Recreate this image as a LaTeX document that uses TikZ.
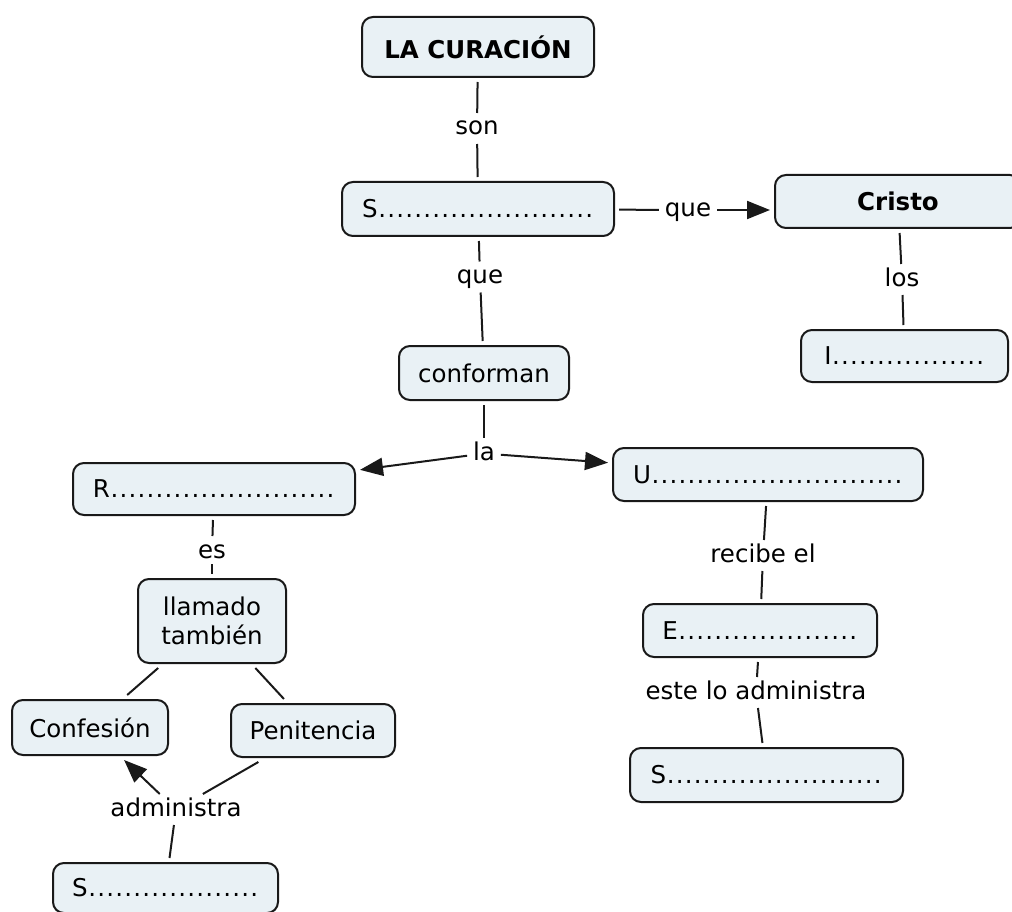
\documentclass[tikz,border=0pt]{standalone}
\usepackage{fontspec}
\setmainfont{DejaVu Sans}
\usetikzlibrary{arrows.meta}
\definecolor{boxfill}{RGB}{233,241,245}
\definecolor{edgecol}{RGB}{25,25,25}
\newcommand{\dotrun}[1]{\foreach \k in {1,...,#1}{\makebox[9pt]{.}}}
\begin{document}
\begin{tikzpicture}[x=1pt,y=-1pt,
  every node/.style={font=\fontsize{24.5}{29}\selectfont, text=black},
  concept/.style={draw=edgecol, line width=2pt, fill=boxfill, rounded corners=11pt, inner sep=0pt, outer sep=5pt},
  linkw/.style={inner xsep=4pt, inner ysep=2pt, text height=18pt, text depth=5pt, outer sep=2pt},
  conn/.style={draw=edgecol, line width=2pt},
  arr/.style={conn, -{Triangle[length=23pt,width=18pt]}}
]
\useasboundingbox (0,0) rectangle (1012,912);

% concepts
\node[concept, minimum width=232pt, minimum height=60pt] (cur) at (478,47) {\bfseries LA CURACIÓN};
\node[concept, minimum width=272pt, minimum height=54pt] (s1) at (478,209) {S\dotrun{24}};
\node[concept, minimum width=246pt, minimum height=53pt] (cristo) at (898,201.5) {\bfseries Cristo};
\node[concept, minimum width=207pt, minimum height=52pt] (inn) at (904.5,356) {I\dotrun{17}};
\node[concept, minimum width=170pt, minimum height=54pt] (conf) at (484,373) {conforman};
\node[concept, minimum width=282pt, minimum height=52pt] (r) at (214,489) {R\dotrun{25}};
\node[concept, minimum width=310pt, minimum height=53pt] (u) at (768,474.5) {U\dotrun{28}};
\node[concept, minimum width=148pt, minimum height=84pt, align=center] (llam) at (212,621) {llamado\\también};
\node[concept, minimum width=156pt, minimum height=55pt] (confes) at (90,727.5) {Confesión};
\node[concept, minimum width=164pt, minimum height=53pt] (penit) at (313,730.5) {Penitencia};
\node[concept, minimum width=225pt, minimum height=50pt] (s3) at (165.5,888) {S\dotrun{19}};
\node[concept, minimum width=234pt, minimum height=53pt] (e) at (760,630.5) {E\dotrun{20}};
\node[concept, minimum width=273pt, minimum height=54pt] (s4) at (766.5,775) {S\dotrun{24}};

% linking phrases
\node[linkw] (son) at (477,128.5) {son};
\node[linkw] (que1) at (688,210) {que};
\node[linkw] (que2) at (480,277) {que};
\node[linkw] (los) at (902,279.5) {los};
\node[linkw] (la) at (484,453.5) {la};
\node[linkw, text depth=2pt] (es) at (212,550) {es};
\node[linkw] (recibe) at (763,555.5) {recibe el};
\node[linkw] (este) at (756,692.5) {este lo administra};
\node[linkw] (admin) at (176,809.5) {administra};

% connectors
\draw[conn] (cur) -- (son);
\draw[conn] (son) -- (s1);
\draw[conn] (s1) -- (que1);
\draw[arr] (que1) -- (que1 -| cristo.west);
\draw[conn] (cristo) -- (los);
\draw[conn] (los) -- (inn);
\draw[conn] (s1) -- (que2);
\draw[conn] (que2) -- (conf);
\draw[conn] (conf) -- (la);
\draw[arr] (la) -- (r);
\draw[arr] (la) -- (u);
\draw[conn] (r) -- (es);
\draw[conn] (es) -- (llam);
\draw[conn] (llam) -- (confes);
\draw[conn] (llam) -- (penit);
\draw[conn] (penit) -- (admin);
\draw[arr] (admin) -- (confes);
\draw[conn] (s3) -- (admin);
\draw[conn] (u) -- (recibe);
\draw[conn] (recibe) -- (e);
\draw[conn] (e) -- (este);
\draw[conn] (este) -- (s4);
\end{tikzpicture}
\end{document}
